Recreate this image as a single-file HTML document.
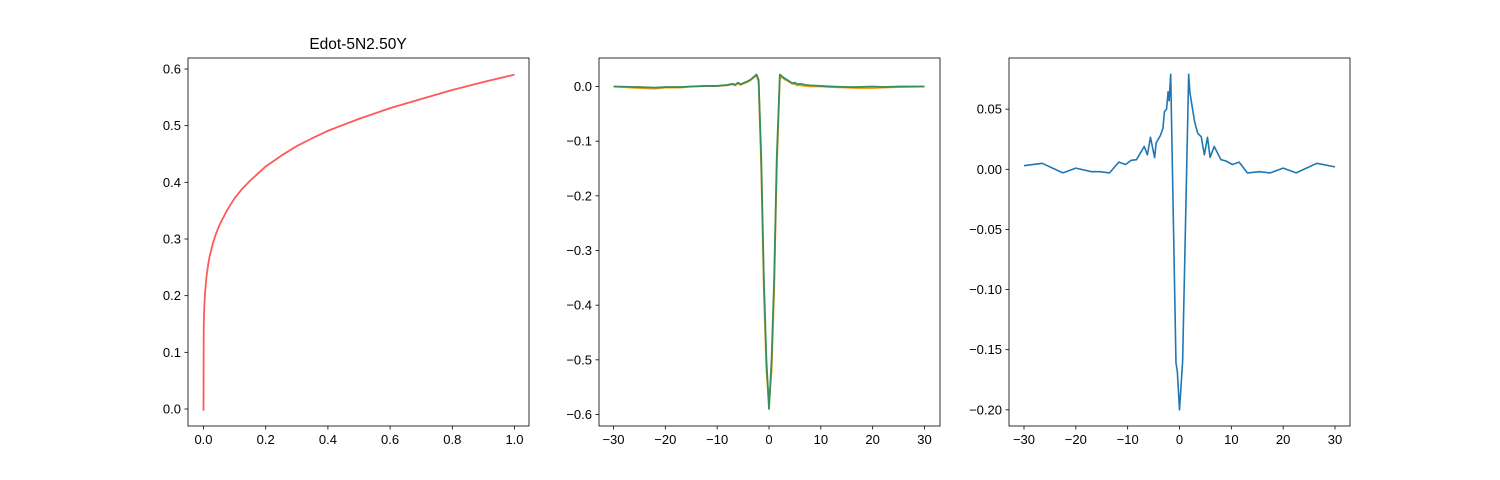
<!DOCTYPE html>
<html><head><meta charset="utf-8"><style>
body{margin:0;background:#fff}
svg{display:block;font-family:"Liberation Sans","DejaVu Sans",sans-serif}
text{font-size:13px;fill:#000}
</style></head><body>
<svg id="fig" width="1500" height="480">
<rect width="1500" height="480" fill="#fff"/>
</svg>
<script>
// Panel 1 data
const p1X=[0,0.0005,0.001,0.002,0.003,0.005,0.0075,0.01,0.015,0.02,0.03,0.04,0.05,0.06,0.075,0.1,0.125,0.15,0.2,0.25,0.3,0.35,0.4,0.5,0.6,0.7,0.8,0.9,1.0];
const p1Y=[-0.003,0.12,0.15,0.17,0.185,0.205,0.221,0.235,0.255,0.27,0.292,0.309,0.323,0.334,0.35,0.372,0.389,0.403,0.428,0.447,0.464,0.478,0.491,0.512,0.531,0.547,0.563,0.577,0.59];
// Panel 2 data
const p2X=[-30,-25,-22,-20,-17,-15,-12,-10,-8,-7,-6.5,-6,-5.5,-5,-4.5,-4,-3.5,-3,-2.4,-2,-1.5,-1,-0.5,0,0.5,1,1.5,2.1,2.6,3,3.5,4,4.5,5,5.5,6,7,8,10,12,15,17,20,22,25,30];
const p2Green=[0,-0.001,-0.002,-0.001,-0.001,0,0.001,0.001,0.003,0.005,0.003,0.007,0.004,0.006,0.008,0.01,0.013,0.017,0.022,0.012,-0.13,-0.35,-0.5,-0.59,-0.5,-0.35,-0.13,0.022,0.018,0.015,0.012,0.009,0.006,0.007,0.004,0.005,0.003,0.002,0.001,0,-0.001,-0.001,0,-0.001,0,0];
const p2Orange=[0,-0.003,-0.004,-0.002,-0.002,0,0.001,0.001,0.002,0.004,0.002,0.006,0.003,0.005,0.007,0.009,0.012,0.016,0.02,0.008,-0.15,-0.37,-0.52,-0.58,-0.52,-0.37,-0.15,0.018,0.016,0.013,0.011,0.008,0.005,0.004,0.002,0.002,0.001,0,0,-0.001,-0.002,-0.003,-0.003,-0.002,-0.001,0];
// Panel 3 data
const p3X=[-30,-26.5,-22.5,-20,-17,-15.3,-13.5,-11.7,-10.4,-9.3,-8.3,-6.8,-6.2,-5.6,-4.8,-4.5,-3.7,-3.2,-2.9,-2.5,-2.2,-2.0,-1.7,-0.68,-0.42,0,0.48,0.6,1.77,2.0,2.9,3.5,4.2,4.8,5.4,5.9,6.7,8.0,8.9,10.2,11.5,13.1,15.4,17.5,20,22.5,26.5,30];
const p3Y=[0.003,0.005,-0.003,0.001,-0.002,-0.002,-0.003,0.006,0.004,0.0075,0.008,0.019,0.012,0.0266,0.0097,0.022,0.028,0.034,0.048,0.05,0.0645,0.057,0.079,-0.161,-0.168,-0.2,-0.168,-0.16,0.079,0.064,0.04,0.03,0.027,0.012,0.0266,0.01,0.019,0.008,0.007,0.004,0.006,-0.003,-0.002,-0.003,0.001,-0.003,0.005,0.002];
const p1XTicks=[0,0.2,0.4,0.6,0.8,1.0], p1XLabels=["0.0","0.2","0.4","0.6","0.8","1.0"];
const p1YTicks=[0,0.1,0.2,0.3,0.4,0.5,0.6], p1YLabels=["0.0","0.1","0.2","0.3","0.4","0.5","0.6"];
const p2XTicks=[-30,-20,-10,0,10,20,30], p2XLabels=["−30","−20","−10","0","10","20","30"];
const p2YTicks=[0,-0.1,-0.2,-0.3,-0.4,-0.5,-0.6], p2YLabels=["0.0","−0.1","−0.2","−0.3","−0.4","−0.5","−0.6"];
const p3YTicks=[0.05,0,-0.05,-0.1,-0.15,-0.2], p3YLabels=["0.05","0.00","−0.05","−0.10","−0.15","−0.20"];

const NS="http://www.w3.org/2000/svg", svg=document.getElementById('fig');
function mk(t,a,p){const e=document.createElementNS(NS,t);for(const k in a)e.setAttribute(k,a[k]);(p||svg).appendChild(e);return e;}
function lin(d0,d1,r0,r1){return v=>r0+(v-d0)*(r1-r0)/(d1-d0);}
function panel(name,L,R,T,B,sx,sy,xt,xl,yt,yl){
  const g=mk('g',{});
  
  
  xt.forEach((v,i)=>{const x=sx(v);
    const t=mk('line',{x1:x,x2:x,y1:B,y2:B+3.5,stroke:'#000','stroke-width':0.8},g);
    
    const l=mk('text',{x:x,y:B+18,'text-anchor':'middle'},g);l.textContent=xl[i];
    });
  yt.forEach((v,i)=>{const y=sy(v);
    const t=mk('line',{x1:L-3.5,x2:L,y1:y,y2:y,stroke:'#000','stroke-width':0.8},g);
    
    const l=mk('text',{x:L-7,y:y+4.5,'text-anchor':'end'},g);l.textContent=yl[i];
    });
  return g;
}
function series(g,xs,ys,sx,sy,color,name,w,op){
  const p=mk('polyline',{points:xs.map((x,i)=>sx(x).toFixed(2)+','+sy(ys[i]).toFixed(2)).join(' '),fill:'none',stroke:color,'stroke-width':w,'stroke-opacity':op,'stroke-linejoin':'round'},g);
  
}
function frame(g,L,R,T,B){
  const r=mk('rect',{x:L,y:T,width:R-L,height:B-T,fill:'none',stroke:'#000','stroke-width':0.8},g);
  
}
// Panel 1
let sx=lin(0,1,203.5,514.5), sy=lin(0,0.6,409,69);
let g=panel('panel-1',188,529,58,426,sx,sy,p1XTicks,p1XLabels,p1YTicks,p1YLabels);
series(g,p1X,p1Y,sx,sy,'#ff3030','edot-curve',1.8,0.8);
frame(g,188,529,58,426);
const tt=mk('text',{x:358,y:49,'text-anchor':'middle',style:'font-size:15.5px'},g);tt.textContent='Edot-5N2.50Y';

// Panel 2
sx=lin(-30,30,613.5,924.5); sy=lin(0,-0.6,86.5,414.5);
g=panel('panel-2',599,940,58,426,sx,sy,p2XTicks,p2XLabels,p2YTicks,p2YLabels);
series(g,p2X,p2Orange,sx,sy,'#ff9f0e','orange-series',1.8,1);
series(g,p2X,p2Green,sx,sy,'#2e8c5c','green-series',1.8,0.95);
frame(g,599,940,58,426);
// Panel 3
sx=lin(-30,30,1024,1335); sy=lin(0,-0.2,169.3,409.8);
g=panel('panel-3',1009,1350,58,426,sx,sy,p2XTicks,p2XLabels,p3YTicks,p3YLabels);
series(g,p3X,p3Y,sx,sy,'#1f77b4','blue-series',1.6,1);
frame(g,1009,1350,58,426);
</script>
</body></html>
